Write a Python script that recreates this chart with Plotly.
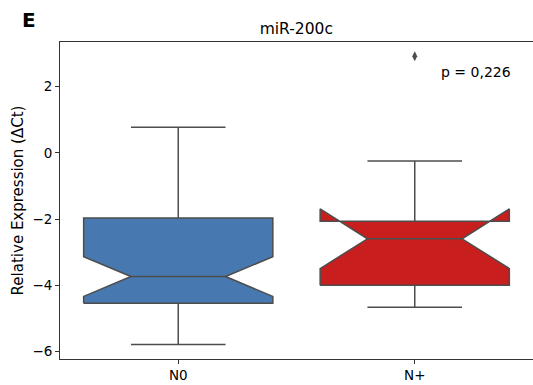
import plotly.graph_objects as go

groups = ["N0", "N+"]
lower_whisker = [-5.78, -4.66]
q1_vals = [-4.54, -3.99]
medians = [-3.73, -2.59]
q3_vals = [-1.96, -2.06]
upper_whisker = [0.78, -0.24]
notch_half = [0.60, 0.90]
box_colors = ["#4878B0", "#C81E1E"]
outlier_group = ["N+"]
outlier_vals = [2.92]

line_col = "#4d4d4d"
BOX_HALF = 0.4      # half width of a box (category units)
NOTCH_HALF = 0.2    # half width at the median
CAP_HALF = 0.2      # half width of whisker caps

fig = go.Figure()
for i, g in enumerate(groups):
    q1, m, q3 = q1_vals[i], medians[i], q3_vals[i]
    ln, un = m - notch_half[i], m + notch_half[i]
    lw, uw = lower_whisker[i], upper_whisker[i]
    xs = [i - BOX_HALF, i - BOX_HALF, i - NOTCH_HALF, i - BOX_HALF, i - BOX_HALF,
          i + BOX_HALF, i + BOX_HALF, i + NOTCH_HALF, i + BOX_HALF, i + BOX_HALF,
          i - BOX_HALF]
    ys = [q1, ln, m, un, q3, q3, un, m, ln, q1, q1]
    fig.add_trace(go.Scatter(
        x=xs, y=ys, mode="lines", fill="toself", fillcolor=box_colors[i],
        line=dict(color=line_col, width=1.5), showlegend=False,
        hoverinfo="skip"))
    wx = [i, i, None, i, i, None, i - CAP_HALF, i + CAP_HALF, None,
          i - CAP_HALF, i + CAP_HALF, None, i - NOTCH_HALF, i + NOTCH_HALF]
    wy = [q1, lw, None, q3, uw, None, lw, lw, None, uw, uw, None, m, m]
    fig.add_trace(go.Scatter(
        x=wx, y=wy, mode="lines", line=dict(color=line_col, width=1.5),
        showlegend=False, hoverinfo="skip"))

fig.add_trace(go.Scatter(
    x=[groups.index(g) for g in outlier_group], y=outlier_vals, mode="markers",
    marker=dict(symbol="diamond-tall", size=7, color=line_col,
                line=dict(width=0)),
    showlegend=False, hoverinfo="skip"))

fig.update_layout(
    width=533, height=385,
    margin=dict(l=60, r=0, t=42, b=26),
    plot_bgcolor="white", paper_bgcolor="white",
    font=dict(family="DejaVu Sans", size=13, color="#000000"),
    title=dict(text="miR-200c", x=0.556, xanchor="center", y=0.926,
               yanchor="middle", font=dict(size=15.5)),
    annotations=[
        dict(text="<b>E</b>", xref="paper", yref="paper", x=-0.085, y=1.07,
             showarrow=False, font=dict(size=20), xanchor="left",
             yanchor="middle"),
        dict(text="p = 0,226", x=1, y=2.45, xref="x", yref="y",
             showarrow=False, font=dict(size=14), xanchor="left",
             yanchor="middle", xshift=24),
    ],
)

fig.update_xaxes(range=[-0.5, 1.5], showline=True,
                 tickvals=list(range(len(groups))), ticktext=groups,
                 linecolor="#333333", linewidth=1, mirror=True,
                 ticks="outside", ticklen=4, tickcolor="#333333",
                 tickfont=dict(size=13.5),
                 showgrid=False, zeroline=False)
fig.update_yaxes(range=[-6.22, 3.35], showline=True, linecolor="#333333",
                 linewidth=1, mirror=True, ticks="outside", ticklen=4,
                 tickcolor="#333333", showgrid=False, zeroline=False,
                 tickvals=[-6, -4, -2, 0, 2], tickfont=dict(size=13.5),
                 title=dict(text="Relative Expression (ΔCt)",
                            font=dict(size=15), standoff=5))

fig.write_html("out.html")
